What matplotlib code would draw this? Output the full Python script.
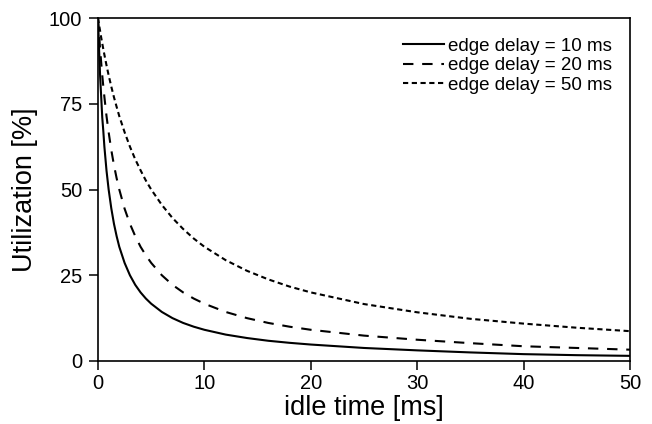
import matplotlib
matplotlib.use("Agg")
import matplotlib.pyplot as plt

plt.rcParams["font.family"] = ["Liberation Sans", "DejaVu Sans"]

# idle time samples [ms]
idle_time = [0, 0.1, 0.2, 0.3, 0.4, 0.5, 0.6, 0.8, 1, 1.25, 1.5, 1.75, 2,
             2.5, 3, 3.5, 4, 4.5, 5, 6, 7, 8, 9, 10, 12, 14, 16, 18, 20,
             25, 30, 35, 40, 45, 50]

# utilization [%] for each edge delay
util_10ms = [100, 91, 83, 77, 71, 67, 62.5, 55.5, 50, 44.5, 40, 36.4, 33.3,
             28.6, 25, 22.2, 20, 18.2, 16.7, 14.3, 12.5, 11.1, 10, 9.1, 7.7,
             6.7, 5.9, 5.3, 4.8, 3.8, 3.1, 2.5, 2.0, 1.7, 1.5]
util_20ms = [100, 95.2, 90.9, 87, 83.3, 80, 77, 71.4, 66.7, 61.5, 57.1, 53.3,
             50, 44.4, 40, 36.4, 33.3, 30.8, 28.6, 25, 22.2, 20, 18.2, 16.7,
             14.3, 12.5, 11.1, 10, 9.1, 7.4, 6.2, 5.2, 4.3, 3.8, 3.3]
util_50ms = [100, 98, 96.2, 94.3, 92.6, 90.9, 89.3, 86.2, 83.3, 80, 76.9,
             74.1, 71.4, 66.7, 62.5, 58.8, 55.6, 52.6, 50, 45.5, 41.7, 38.5,
             35.7, 33.3, 29.4, 26.3, 23.8, 21.7, 20, 16.6, 14.2, 12.3, 10.9,
             9.7, 8.7]

series_labels = ["edge delay = 10 ms", "edge delay = 20 ms", "edge delay = 50 ms"]
x_ticks = [0, 10, 20, 30, 40, 50]
y_ticks = [0, 25, 50, 75, 100]

fig = plt.figure(figsize=(6.52, 4.24), dpi=100)
ax = fig.add_axes([98 / 652, 1 - 361 / 424, 532 / 652, 343 / 424])

lw = 1.5
ax.plot(idle_time, util_10ms, color="black", lw=lw, linestyle="-",
        label=series_labels[0])
ax.plot(idle_time, util_20ms, color="black", lw=lw, linestyle=(0, (5, 4.2)),
        label=series_labels[1])
ax.plot(idle_time, util_50ms, color="black", lw=lw, linestyle=(0, (2.5, 1.7)),
        label=series_labels[2])

ax.set_xlim(0, 50)
ax.set_ylim(0, 100)
ax.set_xticks(x_ticks)
ax.set_yticks(y_ticks)
ax.tick_params(direction="out", length=6.5, width=1.1, labelsize=14.5,
               colors="black")
ax.tick_params(axis="y", pad=5)
ax.tick_params(axis="x", pad=3)
for sp in ax.spines.values():
    sp.set_linewidth(1.2)
    sp.set_color("black")

ax.set_xlabel("idle time [ms]", fontsize=19.5, labelpad=1)
ax.set_ylabel("Utilization [%]", fontsize=19.5, labelpad=8)

leg = ax.legend(loc="upper right", frameon=False, fontsize=13.5,
                handlelength=2.2, handletextpad=0.2, labelspacing=0.12,
                borderaxespad=0.3, bbox_to_anchor=(0.99, 0.981))

fig.savefig("out.png", dpi=100)
